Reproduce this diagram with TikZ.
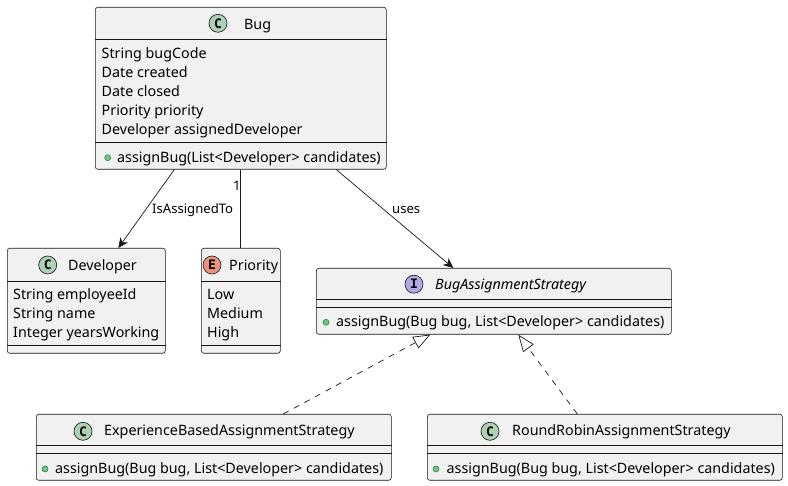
\documentclass[tikz,border=0pt]{standalone}
\usepackage{fontspec}
\setmainfont{Noto Sans}
\newfontfamily\circfont{DejaVu Sans Mono}
\usetikzlibrary{arrows.meta}
\definecolor{boxfill}{HTML}{F1F1F1}
\definecolor{bord}{HTML}{181818}
\definecolor{cgreen}{HTML}{ADD1B2}
\definecolor{ered}{HTML}{EB937F}
\definecolor{ipurple}{HTML}{B4A7E5}
\definecolor{visfill}{HTML}{84BE84}
\definecolor{visbord}{HTML}{038048}
\begin{document}
\begin{tikzpicture}[x=1pt,y=-1pt,
 classbox/.style={draw=bord, fill=boxfill, line width=0.6pt, rounded corners=2.5pt, inner sep=0pt, anchor=north west},
 divider/.style={draw=bord, line width=0.6pt},
 mem/.style={anchor=base west, inner sep=0pt, font=\fontsize{14.3}{16}\selectfont},
 ttl/.style={anchor=base west, inner sep=0pt, font=\fontsize{14.3}{16}\selectfont},
 lbl/.style={anchor=base west, inner sep=0pt, font=\fontsize{13.1}{15}\selectfont},
 badge/.style={circle, draw=bord, line width=0.6pt, minimum size=18pt, inner sep=0pt, font=\circfont\bfseries\fontsize{13}{13}\selectfont},
 vis/.style={circle, draw=visbord, fill=visfill, line width=0.5pt, minimum size=6pt, inner sep=0pt},
 assoc/.style={draw=bord, line width=0.7pt},
 navarrow/.style={assoc, -{Stealth[length=10pt, width=9pt, inset=3pt]}},
 real/.style={draw=bord, line width=0.7pt, dash pattern=on 6pt off 6pt, -{Triangle[open, length=17pt, width=13pt]}},
]
\useasboundingbox[fill=white] (0,0) rectangle (788,486);

% Bug
\node[classbox, minimum width=291pt, minimum height=162pt] (bug) at (95,7) {};
\draw[divider] ([yshift=-32pt]bug.north west) -- ([yshift=-32pt]bug.north east);
\draw[divider] ([yshift=-135pt]bug.north west) -- ([yshift=-135pt]bug.north east);
\node[badge, fill=cgreen] (bugc) at (218,23.3) {C};
\node[ttl] (bugt) at (244,29.3) {Bug};
\node[mem] (bug1) at (101.5,59) {String bugCode};
\node[mem] (bug2) at (101.5,78) {Date created};
\node[mem] (bug3) at (101.5,97) {Date closed};
\node[mem] (bug4) at (101.5,116) {Priority priority};
\node[mem] (bug5) at (101.5,135) {Developer assignedDeveloper};
\node[vis] (bugv) at (107.7,157.7) {};
\node[mem] (bugm) at (117,162.3) {assignBug(List<Developer> candidates)};

% Developer
\node[classbox, minimum width=158pt, minimum height=105pt] (dev) at (7,248) {};
\draw[divider] ([yshift=-33pt]dev.north west) -- ([yshift=-33pt]dev.north east);
\draw[divider] ([yshift=-97pt]dev.north west) -- ([yshift=-97pt]dev.north east);
\node[badge, fill=cgreen] (devc) at (47.7,265) {C};
\node[ttl] (devt) at (68,270.7) {Developer};
\node[mem] (dev1) at (13,299.5) {String employeeId};
\node[mem] (dev2) at (13,318.5) {String name};
\node[mem] (dev3) at (13,337.8) {Integer yearsWorking};

% Priority
\node[classbox, minimum width=79pt, minimum height=105pt] (pri) at (201,248) {};
\draw[divider] ([yshift=-33pt]pri.north west) -- ([yshift=-33pt]pri.north east);
\draw[divider] ([yshift=-97pt]pri.north west) -- ([yshift=-97pt]pri.north east);
\node[badge, fill=ered] (pric) at (212,265) {E};
\node[ttl] (prit) at (229,270.7) {Priority};
\node[mem] (pri1) at (207,299.5) {Low};
\node[mem] (pri2) at (207,318.5) {Medium};
\node[mem] (pri3) at (207,337.8) {High};

% Interface
\node[classbox, minimum width=355pt, minimum height=66pt] (iface) at (316,268) {};
\draw[divider] ([yshift=-31pt]iface.north west) -- ([yshift=-31pt]iface.north east);
\draw[divider] ([yshift=-39pt]iface.north west) -- ([yshift=-39pt]iface.north east);
\node[badge, fill=ipurple] (ifc) at (414,284.2) {I};
\node[ttl, font=\fontsize{14.3}{16}\selectfont\itshape] (ift) at (435,289.3) {BugAssignmentStrategy};
\node[vis] (ifv) at (326,322.3) {};
\node[mem] (ifm) at (336,326.7) {assignBug(Bug bug, List<Developer> candidates)};

% Experience
\node[classbox, minimum width=355pt, minimum height=66pt] (exp) at (36,414) {};
\draw[divider] ([yshift=-31pt]exp.north west) -- ([yshift=-31pt]exp.north east);
\draw[divider] ([yshift=-39pt]exp.north west) -- ([yshift=-39pt]exp.north east);
\node[badge, fill=cgreen] (expc) at (83,431.3) {C};
\node[ttl] (expt) at (104,436) {ExperienceBasedAssignmentStrategy};
\node[vis] (expv) at (45,469) {};
\node[mem] (expm) at (55,474) {assignBug(Bug bug, List<Developer> candidates)};

% RoundRobin
\node[classbox, minimum width=355pt, minimum height=66pt] (rr) at (427,414) {};
\draw[divider] ([yshift=-31pt]rr.north west) -- ([yshift=-31pt]rr.north east);
\draw[divider] ([yshift=-39pt]rr.north west) -- ([yshift=-39pt]rr.north east);
\node[badge, fill=cgreen] (rrc) at (490,431.3) {C};
\node[ttl] (rrt) at (512,436) {RoundRobinAssignmentStrategy};
\node[vis] (rrv) at (436,469) {};
\node[mem] (rrm) at (446.5,474) {assignBug(Bug bug, List<Developer> candidates)};

% Connectors
\draw[navarrow] ([xshift=-66.5pt]bug.south) -- ([xshift=32pt]dev.north);
\node[lbl] (l1) at (152,214) {IsAssignedTo};
\draw[assoc] (bug.south) -- (pri.north);
\node[lbl] (l2) at (233,190.7) {1};
\draw[navarrow] ([xshift=95.5pt]bug.south) -- ([xshift=-40.5pt]iface.north);
\node[lbl] (l3) at (392,214) {uses};
\draw[real] ([xshift=69.5pt]exp.north) -- ([xshift=-63.5pt]iface.south);
\draw[real] ([xshift=-27.5pt]rr.north) -- ([xshift=24.5pt]iface.south);
\end{tikzpicture}
\end{document}
